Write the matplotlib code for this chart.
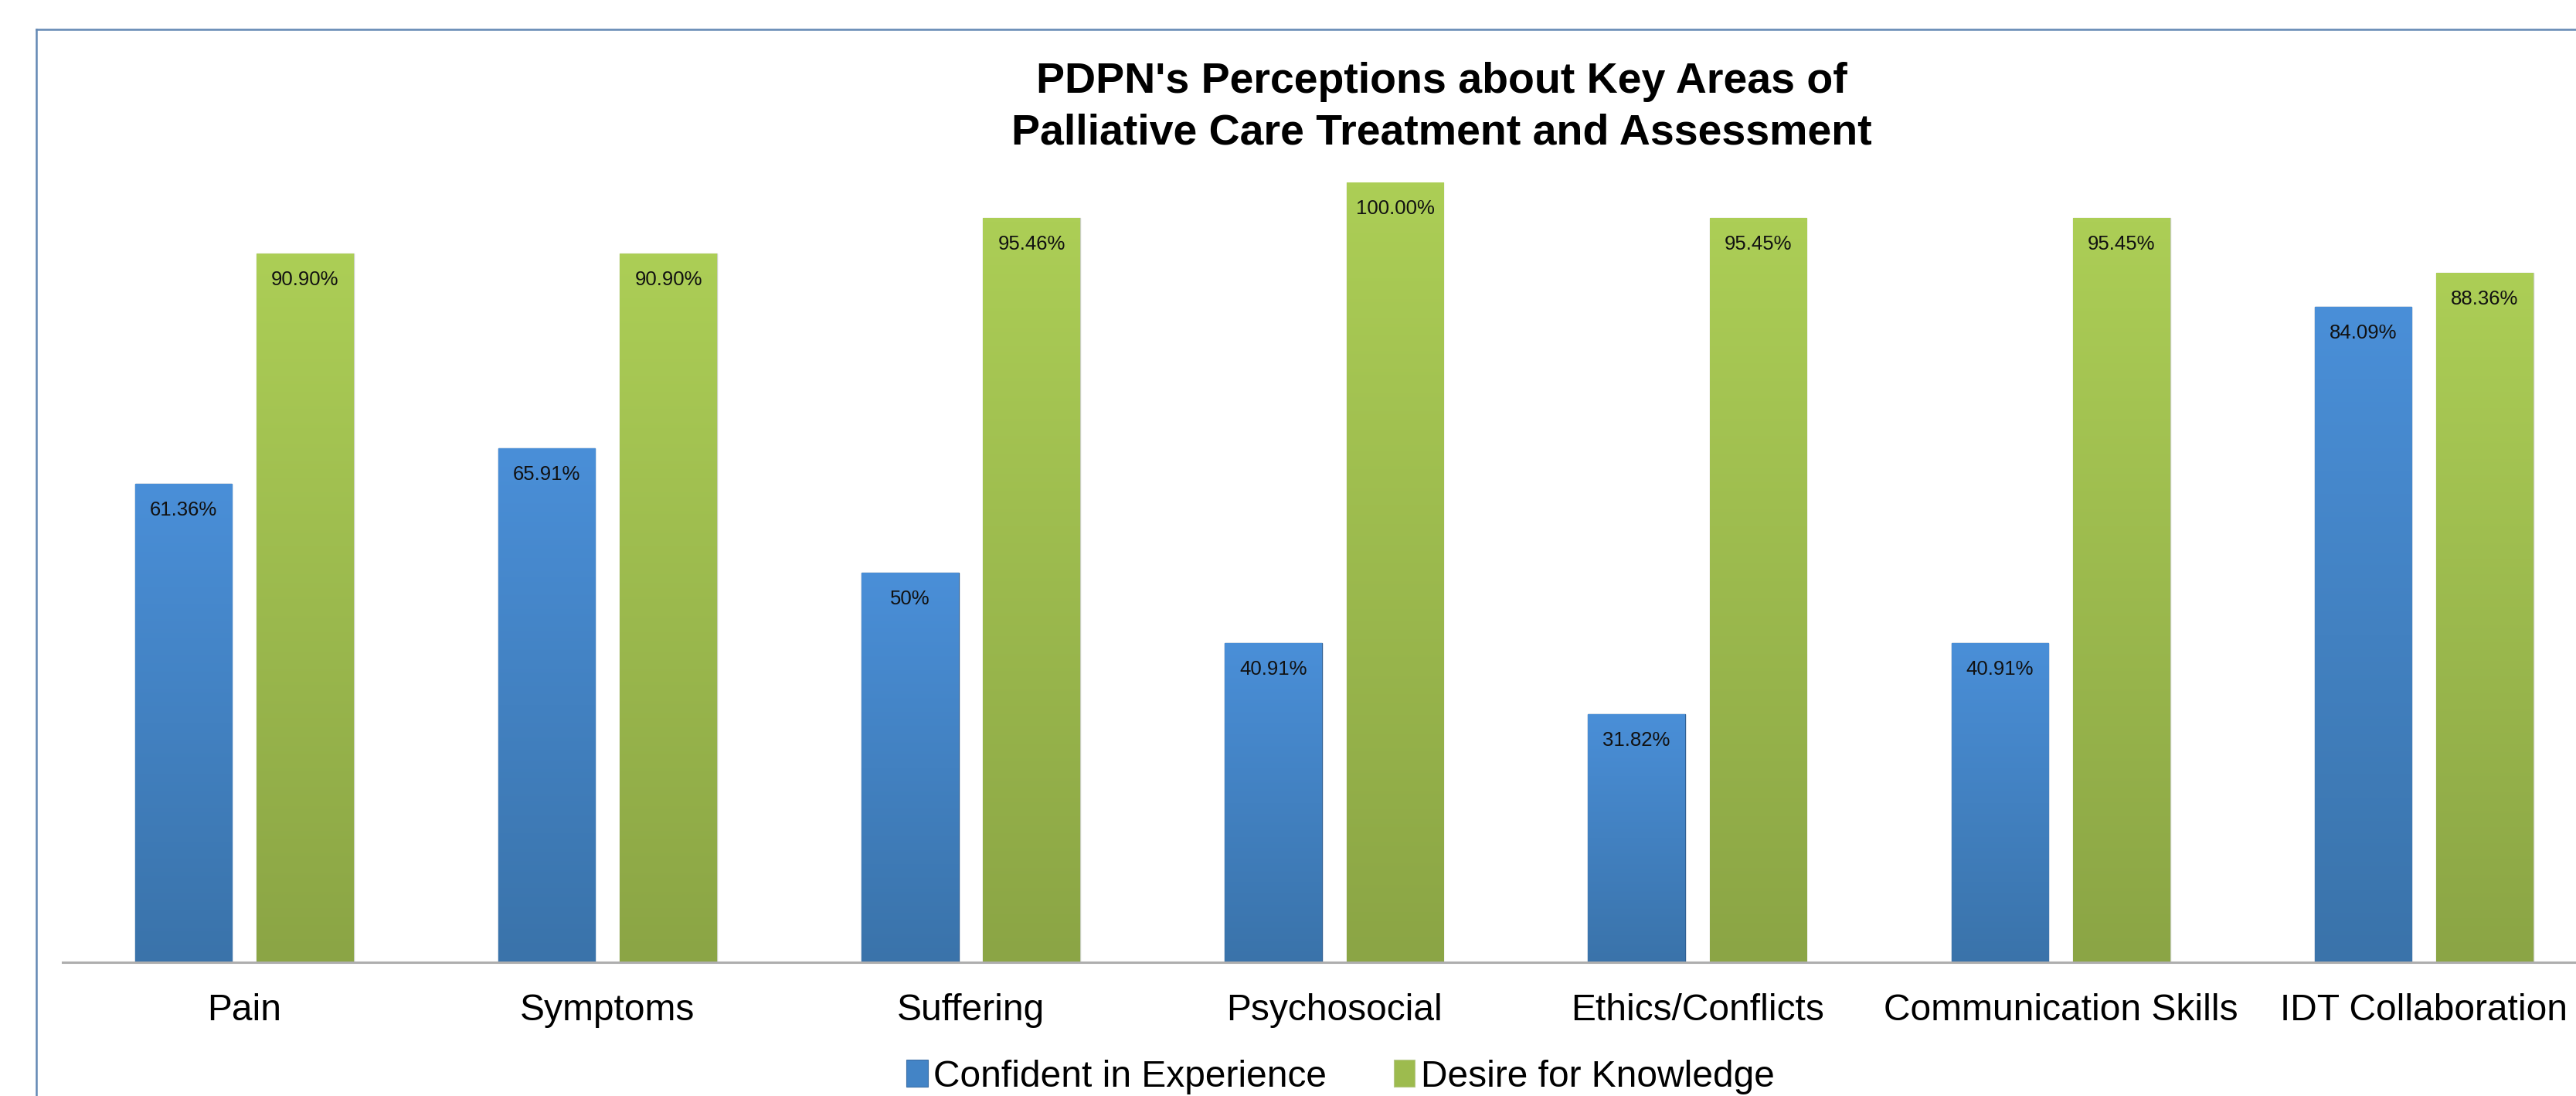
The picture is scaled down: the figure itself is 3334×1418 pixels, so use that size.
import numpy as np
import matplotlib
matplotlib.use("Agg")
import matplotlib.pyplot as plt
from matplotlib.colors import LinearSegmentedColormap
from matplotlib.patches import Patch
from matplotlib.lines import Line2D

plt.rcParams['font.family'] = ['Liberation Sans', 'DejaVu Sans']

# data
categories = ["Pain", "Symptoms", "Suffering", "Psychosocial",
              "Ethics/Conflicts", "Communication Skills", "IDT Collaboration"]
confident = [61.36, 65.91, 50, 40.91, 31.82, 40.91, 84.09]
desire = [90.90, 90.90, 95.46, 100.00, 95.45, 95.45, 88.36]
confident_labels = ["61.36%", "65.91%", "50%", "40.91%", "31.82%", "40.91%", "84.09%"]
desire_labels = ["90.90%", "90.90%", "95.46%", "100.00%", "95.45%", "95.45%", "88.36%"]
series_names = ["Confident in Experience", "Desire for Knowledge"]

W, H = 3334, 1418
fig = plt.figure(figsize=(W / 100, H / 100), dpi=100, facecolor='white')

# axes: baseline at y=1245px, 100% at y=236px, first group starts at x=81px
ax_left = 81 / W
ax_width = 7 * 470.2 / W
ax_bottom = (H - 1245) / H
ax_height = (1245 - 236) / H
ax = fig.add_axes([ax_left, ax_bottom, ax_width, ax_height])

x = np.arange(len(categories))
bw = 0.267
off = 0.1675

blue_cmap = LinearSegmentedColormap.from_list("b", ["#3A73AA", "#4A8FD8"])
green_cmap = LinearSegmentedColormap.from_list("g", ["#8BA545", "#ACCE56"])
grad = np.linspace(0, 1, 256).reshape(-1, 1)

bars1 = ax.bar(x - off, confident, bw, color="#4384C6", edgecolor="#2F5F92",
               linewidth=1.0, zorder=2)
bars2 = ax.bar(x + off, desire, bw, color="#9DBB4E", edgecolor="#C9CFC0",
               linewidth=1.0, zorder=2)

# vertical gradient fill clipped to each bar
for bars, cmap in ((bars1, blue_cmap), (bars2, green_cmap)):
    for b in bars:
        x0, y0 = b.get_x(), b.get_y()
        im = ax.imshow(grad, cmap=cmap, origin='lower', aspect='auto',
                       extent=(x0, x0 + b.get_width(), y0, y0 + b.get_height()),
                       zorder=2.5, interpolation='bicubic')
        im.set_clip_path(b)

for bars, labels in ((bars1, confident_labels), (bars2, desire_labels)):
    for b, lab in zip(bars, labels):
        ax.annotate(lab, (b.get_x() + b.get_width() / 2, b.get_height()),
                    xytext=(0, -24.5), textcoords='offset points',
                    ha='center', va='center', fontsize=18.5, color='#111111',
                    zorder=4)

ax.set_xlim(-0.5, len(categories) - 0.5)
ax.set_ylim(0, 100)
ax.set_xticks(x, categories, fontsize=34.5)
ax.tick_params(axis='x', length=0, pad=29)
ax.set_yticks([])
for s in ['left', 'right', 'top']:
    ax.spines[s].set_visible(False)
ax.spines['bottom'].set_color('#AEAEAE')
ax.spines['bottom'].set_linewidth(2.2)
ax.spines['bottom'].set_zorder(3)
ax.set_facecolor('none')

# title
fig.text(1866 / W, 1 - 139 / H,
         "PDPN's Perceptions about Key Areas of\nPalliative Care Treatment and Assessment",
         ha='center', va='center', fontsize=40, fontweight='bold', linespacing=1.37)

# legend
handles = [Patch(facecolor="#4384C6", edgecolor="#3A6EA5", linewidth=0.8),
           Patch(facecolor="#9DBB4E", edgecolor="#B8C98A", linewidth=0.8)]
fig.legend(handles, series_names, loc='center', ncol=2, frameon=False,
           bbox_to_anchor=(1735 / W, 1 - 1393 / H), fontsize=34.5,
           handlelength=0.58, handleheight=0.75, handletextpad=0.15,
           columnspacing=1.8, borderaxespad=0)

# chart frame (cropped on the right and bottom)
fx = 47 / W
fy = 1 - 38 / H
fig.add_artist(Line2D([fx, fx], [0, fy], transform=fig.transFigure,
                      color='#6388B4', linewidth=1.8))
fig.add_artist(Line2D([fx, 1], [fy, fy], transform=fig.transFigure,
                      color='#6388B4', linewidth=1.8))

fig.savefig('out.png', dpi=100, facecolor='white')
